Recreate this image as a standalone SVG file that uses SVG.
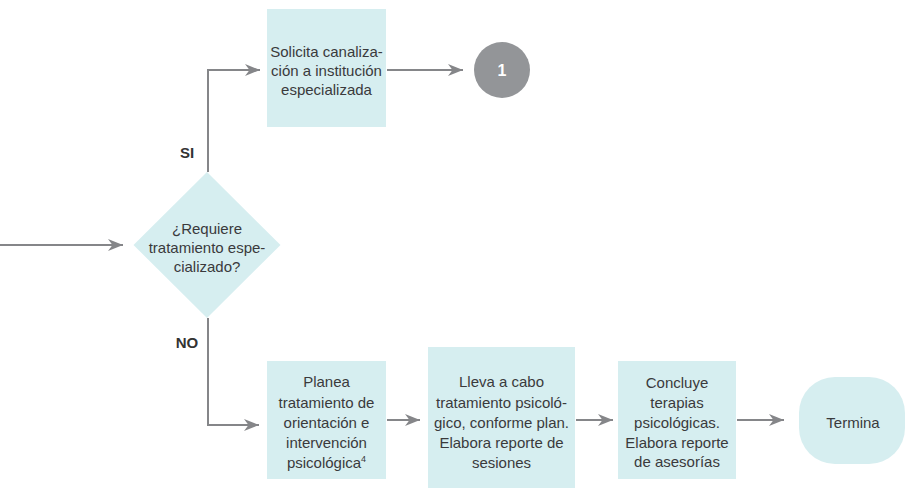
<svg xmlns="http://www.w3.org/2000/svg" width="906" height="489" viewBox="0 0 906 489">
  <style>
    .box { fill: #d6eef0; }
    .lbl { font-family: "Liberation Sans", Arial, sans-serif; font-size: 15px; fill: #3a3a3c; text-anchor: middle; }
    .yn { font-family: "Liberation Sans", Arial, sans-serif; font-size: 15px; font-weight: bold; fill: #333333; text-anchor: middle; }
    .conn { fill: none; stroke: #858689; stroke-width: 2; marker-end: url(#arr); }
  </style>
  <defs>
    <marker id="arr" markerUnits="userSpaceOnUse" markerWidth="16" markerHeight="14" viewBox="-15 -7 16 14" refX="0" refY="0" orient="auto">
      <path d="M0,0 L-15,-6 L-10.5,0 L-15,6 Z" fill="#858689"/>
    </marker>
  </defs>

  <g id="connectors">
    <path class="conn" d="M0,245 H123"/>
    <path class="conn" d="M208,172 V70 H260"/>
    <path class="conn" d="M387,70 H463"/>
    <path class="conn" d="M208,318 V425 H259"/>
    <path class="conn" d="M387,420 H420"/>
    <path class="conn" d="M576,420 H613"/>
    <path class="conn" d="M737,420 H784"/>
  </g>

  <g id="label-si"><text class="yn" x="187" y="158">SI</text></g>
  <g id="label-no"><text class="yn" x="187" y="348">NO</text></g>

  <g id="decision">
    <polygon class="box" points="207,172 280.5,245 207,318 133.5,245"/>
    <text class="lbl" x="207" y="234">¿Requiere</text>
    <text class="lbl" x="207" y="253">tratamiento espe-</text>
    <text class="lbl" x="207" y="272">cializado?</text>
  </g>

  <g id="solicita">
    <rect class="box" x="267" y="9" width="119" height="118"/>
    <text class="lbl" x="326.5" y="57">Solicita canaliza-</text>
    <text class="lbl" x="326.5" y="76">ción a institución</text>
    <text class="lbl" x="326.5" y="95">especializada</text>
  </g>

  <g id="connector-1">
    <circle cx="502" cy="70" r="28" fill="#939598"/>
    <text x="502" y="76" font-family="Liberation Sans, Arial, sans-serif" font-size="16" font-weight="bold" fill="#ffffff" text-anchor="middle">1</text>
  </g>

  <g id="planea">
    <rect class="box" x="267" y="361" width="119" height="118"/>
    <text class="lbl" x="326.5" y="387">Planea</text>
    <text class="lbl" x="326.5" y="407.5">tratamiento de</text>
    <text class="lbl" x="326.5" y="428">orientación e</text>
    <text class="lbl" x="326.5" y="448">intervención</text>
    <text class="lbl" x="326.5" y="468">psicológica<tspan font-size="9" dy="-6">4</tspan></text>
  </g>

  <g id="lleva">
    <rect class="box" x="428" y="347" width="147" height="141"/>
    <text class="lbl" x="501.5" y="387">Lleva a cabo</text>
    <text class="lbl" x="501.5" y="407.5">tratamiento psicoló-</text>
    <text class="lbl" x="501.5" y="428">gico, conforme plan.</text>
    <text class="lbl" x="501.5" y="448">Elabora reporte de</text>
    <text class="lbl" x="501.5" y="468">sesiones</text>
  </g>

  <g id="concluye">
    <rect class="box" x="618" y="361" width="118" height="118"/>
    <text class="lbl" x="677" y="388">Concluye</text>
    <text class="lbl" x="677" y="408">terapias</text>
    <text class="lbl" x="677" y="428">psicológicas.</text>
    <text class="lbl" x="677" y="448">Elabora reporte</text>
    <text class="lbl" x="677" y="467">de asesorías</text>
  </g>

  <g id="termina">
    <rect class="box" x="799" y="377" width="106" height="87" rx="36" ry="36"/>
    <text class="lbl" x="853" y="428">Termina</text>
  </g>
</svg>
